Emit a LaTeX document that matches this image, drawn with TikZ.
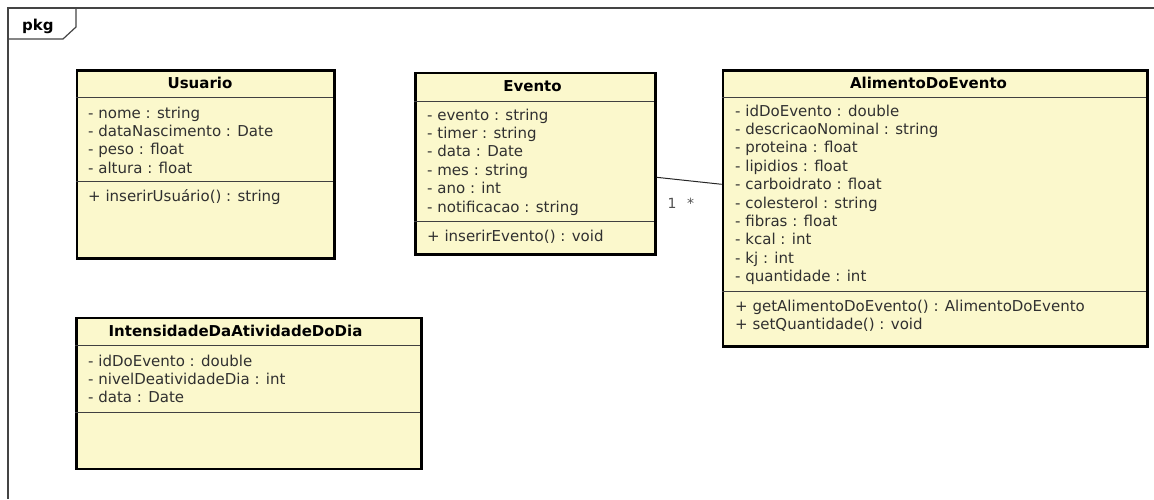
\documentclass[tikz,border=0pt]{standalone}
\usepackage{fontspec}
\newfontfamily\umlfont{DejaVu Sans}
\definecolor{classfill}{HTML}{FBF8CC}
\definecolor{attrtext}{HTML}{303030}
\definecolor{framegray}{HTML}{444444}
\definecolor{multgray}{HTML}{505050}
\begin{document}
\begin{tikzpicture}[x=1pt,y=-1pt,
  classbox/.style={draw=black, line width=2.6pt, fill=classfill, inner sep=0pt, anchor=north west},
  divider/.style={draw=black!75, line width=1pt},
  classtitle/.style={font=\umlfont\bfseries\fontsize{15}{18}\selectfont, text=black, inner sep=0pt, anchor=base},
  % multi-line member lists are placed by the baseline of their last line
  members/.style={font=\umlfont\fontsize{15}{18.4}\selectfont, text=attrtext, inner sep=0pt, align=left, anchor=base west},
  mult/.style={font=\umlfont\fontsize{14}{16}\selectfont, text=multgray, inner sep=0pt, anchor=base},
  assoc/.style={draw=black!85, line width=1pt}
]
\useasboundingbox (0,0) rectangle (1154,499);

% package frame with its name tab
\draw[framegray, line width=1.2pt] (1154,8) -- (8,8) -- (8,499);
\draw[framegray, line width=1.2pt] (8,39) -- (63,39) -- (76,27) -- (76,8);
\node[font=\umlfont\bfseries\fontsize{15}{18}\selectfont, inner sep=0pt, anchor=base west] (pkg) at (22,30) {pkg};

% class Usuario
\node[classbox, minimum width=257.8pt, minimum height=188pt] (usr) at (75.5,69) {};
\draw[divider] (75.5,97) -- (333.3,97);
\draw[divider] (75.5,181) -- (333.3,181);
\node[classtitle] (usrT) at (200,88.5) {Usuario};
\node[members] (usrA) at (88,173.2) {- nome : string\\- dataNascimento : Date\\- peso : float\\- altura : float};
\node[members] (usrM) at (88,201) {+ inserirUsuário() : string};

% class Evento
\node[classbox, minimum width=239.7pt, minimum height=181.6pt] (evt) at (414.3,71.7) {};
\draw[divider] (414.3,101) -- (654,101);
\draw[divider] (414.3,221) -- (654,221);
\node[classtitle] (evtT) at (532.5,91) {Evento};
\node[members] (evtA) at (427,212) {- evento : string\\- timer : string\\- data : Date\\- mes : string\\- ano : int\\- notificacao : string};
\node[members] (evtM) at (427,241) {+ inserirEvento() : void};

% class AlimentoDoEvento
\node[classbox, minimum width=424.3pt, minimum height=276pt] (ali) at (721.7,69) {};
\draw[divider] (721.7,97) -- (1146,97);
\draw[divider] (721.7,291) -- (1146,291);
\node[classtitle] (aliT) at (928.5,88.3) {AlimentoDoEvento};
\node[members] (aliA) at (735,281.6) {- idDoEvento : double\\- descricaoNominal : string\\- proteina : float\\- lipidios : float\\- carboidrato : float\\- colesterol : string\\- fibras : float\\- kcal : int\\- kj : int\\- quantidade : int};
\node[members] (aliM) at (735,329.4) {+ getAlimentoDoEvento() : AlimentoDoEvento\\+ setQuantidade() : void};

% class IntensidadeDaAtividadeDoDia
\node[classbox, minimum width=345pt, minimum height=151pt] (int) at (75,316.7) {};
\draw[divider] (75,345) -- (420,345);
\draw[divider] (75,412) -- (420,412);
\node[classtitle] (intT) at (235.5,336) {IntensidadeDaAtividadeDoDia};
\node[members] (intA) at (88,402.8) {- idDoEvento : double\\- nivelDeatividadeDia : int\\- data : Date};

% association Evento -- AlimentoDoEvento
\draw[assoc] ([yshift=-13.5pt]evt.east) -- ([yshift=24pt]ali.west);
\node[mult] (m1) at (672,208.5) {1};
\node[mult] (m2) at (690.5,208.5) {*};
\end{tikzpicture}
\end{document}
